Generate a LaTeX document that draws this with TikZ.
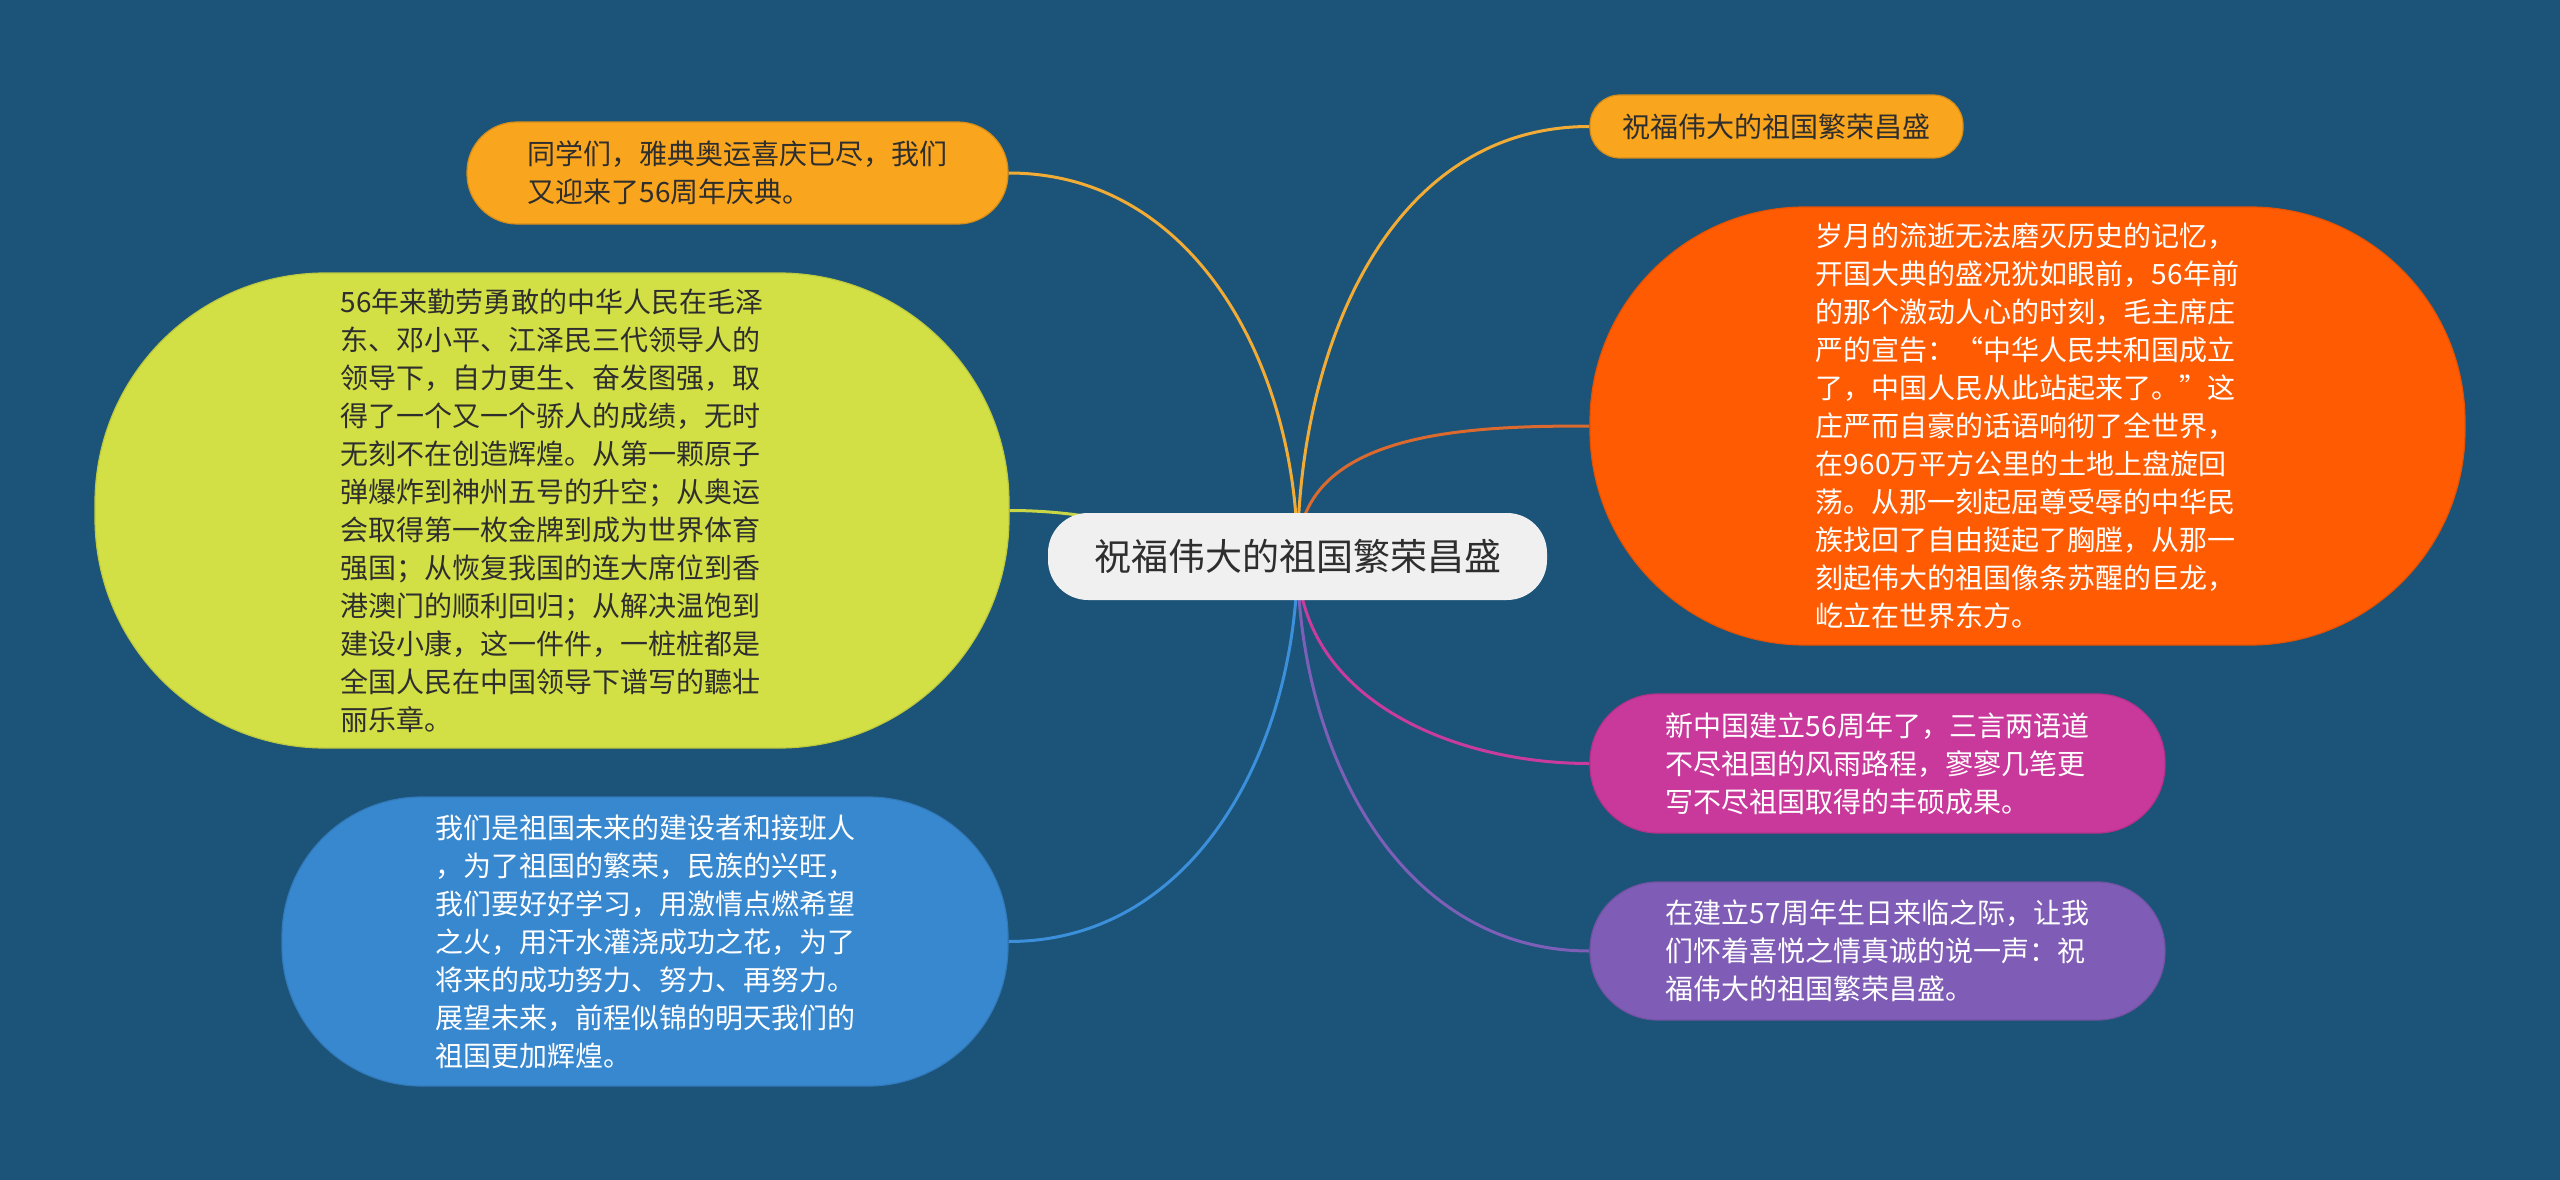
\documentclass[tikz,border=0pt]{standalone}
\usepackage{fontspec}
\setmainfont{Noto Sans CJK SC}
\usetikzlibrary{backgrounds}

\definecolor{cBack}{HTML}{1B5478}
\definecolor{cCenter}{HTML}{F0F0F0}
\definecolor{cGold}{HTML}{F9A51E}
\definecolor{cLime}{HTML}{D2DF45}
\definecolor{cFlame}{HTML}{FE5B02}
\definecolor{cSky}{HTML}{3888D0}
\definecolor{cBerry}{HTML}{C9389B}
\definecolor{cGrape}{HTML}{7F5CB5}
\definecolor{cInk}{HTML}{2E2E2E}
\definecolor{lGold}{HTML}{F2AC35}
\definecolor{lFlame}{HTML}{DC6A2E}
\definecolor{lLime}{HTML}{C9D645}
\definecolor{lSky}{HTML}{3C8FDA}
\definecolor{lBerry}{HTML}{C93C9E}
\definecolor{lGrape}{HTML}{7E5FB8}

\tikzset{
  bubble/.style={inner sep=0pt, align=left, line width=1.2pt,
    font=\fontsize{28}{38}\selectfont},
  branch/.style={line width=3pt},
}

\begin{document}
\begin{tikzpicture}[x=1pt,y=-1pt]
    \useasboundingbox (0,0) rectangle (2560,1180);
    \begin{scope}[on background layer]
        \fill[cBack] (0,0) rectangle (2560,1180);
    \end{scope}

    % centre
    \node[fill=cCenter, text=cInk, rounded corners=40pt, minimum width=499pt, minimum height=87pt,
          font=\fontsize{37}{44}\selectfont] (main) at (1297.5,556.5) {祝福伟大的祖国繁荣昌盛};

    % left side
    \node[bubble, fill=cGold, draw=cGold!85!black, text=cInk, rounded corners=50pt,
          minimum width=541pt, minimum height=102pt] (tl) at (737.5,173)
          {同学们，雅典奥运喜庆已尽，我们\\又迎来了56周年庆典。};
    \node[bubble, fill=cLime, draw=cLime!90!black, text=cInk, rounded corners=230pt,
          minimum width=914pt, minimum height=475pt] (yl) at (552,510.5)
          {56年来勤劳勇敢的中华人民在毛泽\\东、邓小平、江泽民三代领导人的\\领导下，自力更生、奋发图强，取\\得了一个又一个骄人的成绩，无时\\无刻不在创造辉煌。从第一颗原子\\弹爆炸到神州五号的升空；从奥运\\会取得第一枚金牌到成为世界体育\\强国；从恢复我国的连大席位到香\\港澳门的顺利回归；从解决温饱到\\建设小康，这一件件，一桩桩都是\\全国人民在中国领导下谱写的聽壮\\丽乐章。};
    \node[bubble, fill=cSky, draw=cSky!90!black, text=white, rounded corners=140pt,
          minimum width=726pt, minimum height=289pt] (bl) at (645,941.5)
          {我们是祖国未来的建设者和接班人\\，为了祖国的繁荣，民族的兴旺，\\我们要好好学习，用激情点燃希望\\之火，用汗水灌浇成功之花，为了\\将来的成功努力、努力、再努力。\\展望未来，前程似锦的明天我们的\\祖国更加辉煌。};

    % right side
    \node[bubble, fill=cGold, draw=cGold!85!black, text=cInk, rounded corners=30pt,
          minimum width=373pt, minimum height=63pt] (tr) at (1776.5,126.5)
          {祝福伟大的祖国繁荣昌盛};
    \node[bubble, fill=cFlame, draw=cFlame!90!black, text=white, rounded corners=215pt,
          minimum width=875pt, minimum height=438pt] (rd) at (2027.5,426)
          {岁月的流逝无法磨灭历史的记忆，\\开国大典的盛况犹如眼前，56年前\\的那个激动人心的时刻，毛主席庄\\严的宣告：“中华人民共和国成立\\了，中国人民从此站起来了。”这\\庄严而自豪的话语响彻了全世界，\\在960万平方公里的土地上盘旋回\\荡。从那一刻起屈尊受辱的中华民\\族找回了自由挺起了胸膛，从那一\\刻起伟大的祖国像条苏醒的巨龙，\\屹立在世界东方。};
    \node[bubble, fill=cBerry, draw=cBerry!90!black, text=white, rounded corners=68pt,
          minimum width=575pt, minimum height=139pt] (mg) at (1877.5,763.5)
          {新中国建立56周年了，三言两语道\\不尽祖国的风雨路程，寥寥几笔更\\写不尽祖国取得的丰硕成果。};
    \node[bubble, fill=cGrape, draw=cGrape!90!black, text=white, rounded corners=68pt,
          minimum width=575pt, minimum height=138pt] (pp) at (1877.5,951)
          {在建立57周年生日来临之际，让我\\们怀着喜悦之情真诚的说一声：祝\\福伟大的祖国繁荣昌盛。};

    % branches
    \begin{scope}[on background layer]
        \path [branch, lGold] (main.center) edge[out=90,in=0] (tl);
        \path [branch, lLime] (main.center) edge[out=175,in=0] (yl);
        \path [branch, lSky] (main.center) edge[out=270,in=0] (bl);
        \path [branch, lGold] (main.center) edge[out=90,in=180] (tr);
        \path [branch, lFlame] (main.center) edge[out=90,in=180] (rd);
        \path [branch, lBerry] (main.center) edge[out=270,in=180] (mg);
        \path [branch, lGrape] (main.center) edge[out=270,in=180] (pp);
    \end{scope}
\end{tikzpicture}
\end{document}
